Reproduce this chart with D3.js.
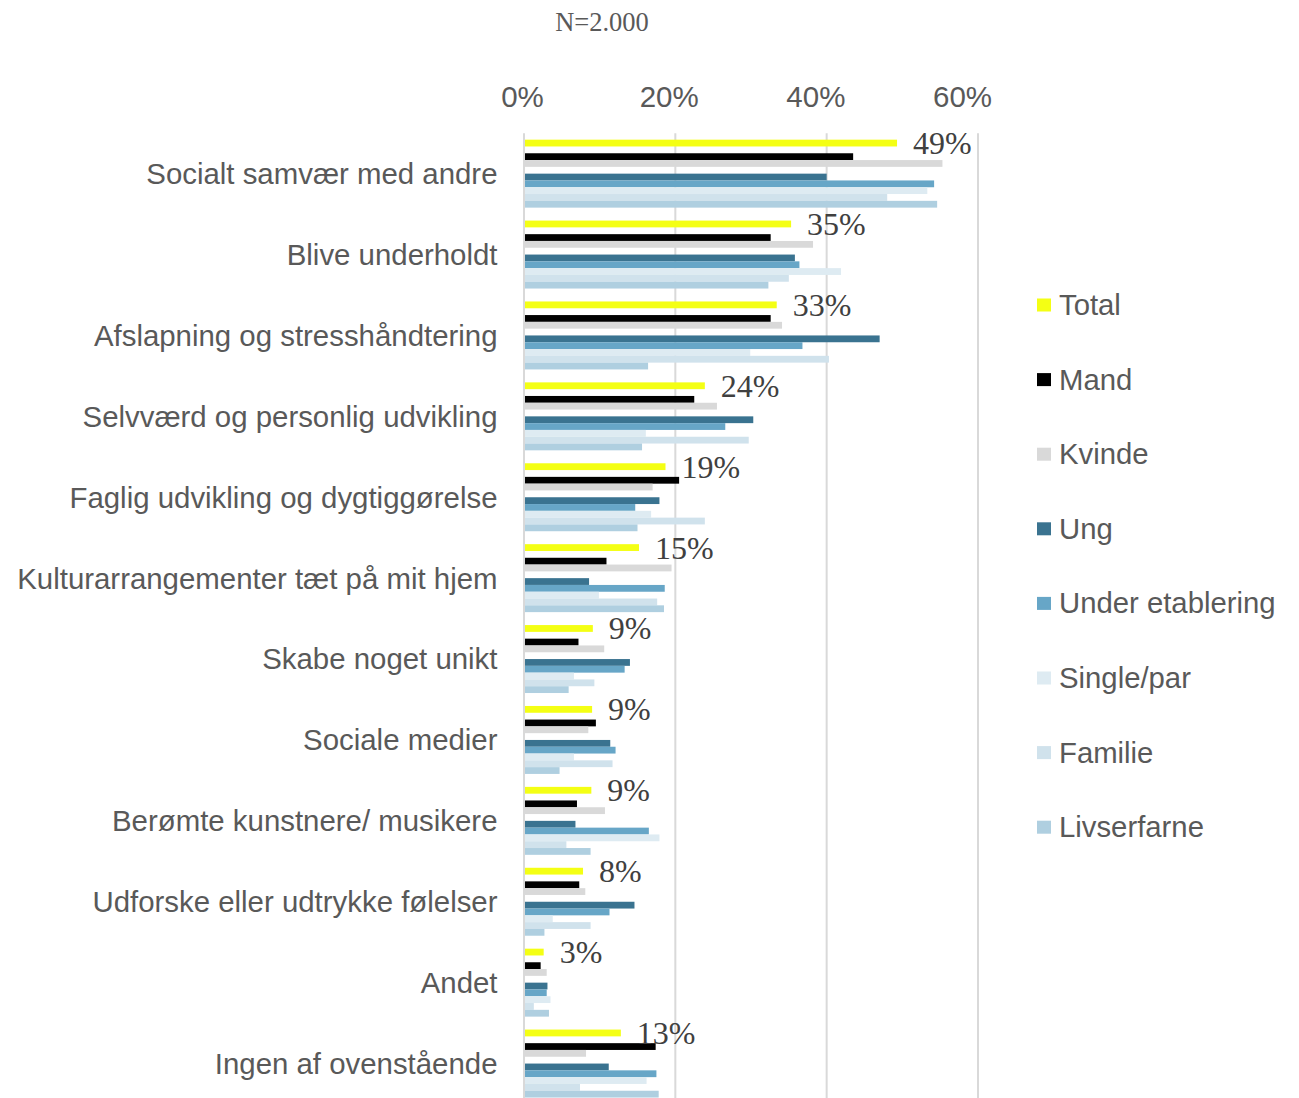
<!DOCTYPE html>
<html>
<head>
  <meta charset="utf-8">
  <script src="https://cdnjs.cloudflare.com/ajax/libs/d3/7.8.5/d3.min.js"></script>
  <style>
    body { margin: 0; background: #fff; }
    svg { display: block; }
  </style>
</head>
<body>
  <div id="chart"></div>

  <script>
    var categories = [
      "Socialt samvær med andre",
      "Blive underholdt",
      "Afslapning og stresshåndtering",
      "Selvværd og personlig udvikling",
      "Faglig udvikling og dygtiggørelse",
      "Kulturarrangementer tæt på mit hjem",
      "Skabe noget unikt",
      "Sociale medier",
      "Berømte kunstnere/ musikere",
      "Udforske eller udtrykke følelser",
      "Andet",
      "Ingen af ovenstående"
    ];

    // values in percent, one array per series
    var total           = [49.3, 35.3, 33.4, 23.9, 18.7, 15.2, 9.1, 9.0, 8.9, 7.8, 2.6, 12.8];
    var mand            = [43.5, 32.6, 32.6, 22.5, 20.5, 10.9, 7.2, 9.5, 7.0, 7.3, 2.2, 17.4];
    var kvinde          = [55.3, 38.2, 34.1, 25.5, 17.0, 19.5, 10.6, 8.5, 10.7, 8.1, 3.0, 8.2];
    var ung             = [40.0, 35.8, 47.0, 30.3, 17.9, 8.6, 14.0, 11.4, 6.8, 14.6, 3.1, 11.2];
    var underEtablering = [54.2, 36.4, 36.8, 26.6, 14.7, 18.6, 13.3, 12.1, 16.5, 11.3, 3.0, 17.5];
    var singlePar       = [53.3, 41.9, 29.9, 16.1, 16.8, 9.9, 6.6, 6.6, 17.9, 3.8, 3.5, 16.2];
    var familie         = [48.0, 35.0, 40.3, 29.7, 23.9, 17.6, 9.3, 11.7, 5.6, 8.8, 1.3, 7.4];
    var livserfarne     = [54.6, 32.3, 16.4, 15.6, 15.0, 18.5, 5.9, 4.7, 8.8, 2.7, 3.3, 17.8];

    var seriesNames = ["Total", "Mand", "Kvinde", "Ung", "Under etablering", "Single/par", "Familie", "Livserfarne"];
    var seriesValues = [total, mand, kvinde, ung, underEtablering, singlePar, familie, livserfarne];
    var seriesColors = ["#f4ff14", "#000000", "#d9d9d9", "#3a7390", "#67a6c7", "#deebf2", "#d0e2ec", "#afcfe0"];

    // slots inside a group; two empty ones give the gaps after Total and Kvinde
    var slots = ["Total", "gap1", "Mand", "Kvinde", "gap2", "Ung", "Under etablering", "Single/par", "Familie", "Livserfarne"];

    var xTicks = [0, 20, 40, 60];
    var subtitle = "N=2.000";

    var width = 1299, height = 1098;
    var textColor = "#595959";
    var sans = "'Liberation Sans', Arial, sans-serif";
    var serif = "'Liberation Serif', 'Times New Roman', serif";

    var svg = d3.select("#chart")
      .append("svg")
      .attr("width", width)
      .attr("height", height);

    var x = d3.scaleLinear().domain([0, 60]).range([524, 978]);
    // tick labels sit a little left of their gridlines in the original
    var xLabel = d3.scaleLinear().domain([0, 60]).range([522, 962]);

    var plotTop = 133.2, step = 80.9;
    var y0 = d3.scaleBand()
      .domain(categories)
      .range([plotTop, plotTop + step * categories.length])
      .paddingInner(0.16)
      .paddingOuter(0.08);

    var y1 = d3.scaleBand()
      .domain(slots)
      .range([0, y0.bandwidth()]);

    // gridlines
    svg.append("g")
      .selectAll("line")
      .data(xTicks)
      .enter().append("line")
      .attr("x1", d => x(d))
      .attr("x2", d => x(d))
      .attr("y1", plotTop)
      .attr("y2", plotTop + step * categories.length)
      .attr("stroke", "#d9d9d9")
      .attr("stroke-width", 2);

    // top axis labels
    var axis = svg.append("g")
      .attr("transform", "translate(0,107)")
      .call(d3.axisTop(xLabel).tickValues(xTicks).tickFormat(d => d + "%").tickSize(0).tickPadding(0));
    axis.select(".domain").remove();
    axis.selectAll("text")
      .attr("fill", textColor)
      .style("font-family", sans)
      .style("font-size", "29.5px");

    // bars
    var rows = [];
    categories.forEach(function(c, i) {
      seriesNames.forEach(function(s, j) {
        rows.push({ category: c, series: s, value: seriesValues[j][i], color: seriesColors[j] });
      });
    });

    svg.append("g")
      .selectAll("rect")
      .data(rows)
      .enter().append("rect")
      .attr("x", x(0) + 1)
      .attr("y", d => y0(d.category) + y1(d.series))
      .attr("width", d => x(d.value) - x(0) - 1)
      .attr("height", y1.bandwidth())
      .attr("fill", d => d.color);

    // Total value labels
    svg.append("g")
      .selectAll("text")
      .data(categories)
      .enter().append("text")
      .attr("x", (d, i) => x(total[i]) + 16)
      .attr("y", d => y0(d) + y1("Total") + y1.bandwidth() / 2 + 11)
      .attr("fill", "#404040")
      .style("font-family", serif)
      .style("font-size", "32px")
      .text((d, i) => Math.round(total[i]) + "%");

    // category labels
    svg.append("g")
      .selectAll("text")
      .data(categories)
      .enter().append("text")
      .attr("x", 497.5)
      .attr("y", d => y0(d) + y0.bandwidth() / 2 + 10.4)
      .attr("text-anchor", "end")
      .attr("fill", textColor)
      .style("font-family", sans)
      .style("font-size", "29.4px")
      .text(d => d);

    // subtitle
    svg.append("text")
      .attr("x", 602)
      .attr("y", 31)
      .attr("text-anchor", "middle")
      .attr("fill", textColor)
      .style("font-family", serif)
      .style("font-size", "26.5px")
      .text(subtitle);

    // legend
    var legend = svg.append("g")
      .selectAll("g")
      .data(seriesNames)
      .enter().append("g")
      .attr("transform", (d, i) => "translate(1037," + (305 + i * 74.6) + ")");

    legend.append("rect")
      .attr("x", 0)
      .attr("y", -6.5)
      .attr("width", 14)
      .attr("height", 13)
      .attr("fill", (d, i) => seriesColors[i]);

    legend.append("text")
      .attr("x", 22)
      .attr("y", 10)
      .attr("fill", textColor)
      .style("font-family", sans)
      .style("font-size", "29.3px")
      .text(d => d);
  </script>
</body>
</html>
